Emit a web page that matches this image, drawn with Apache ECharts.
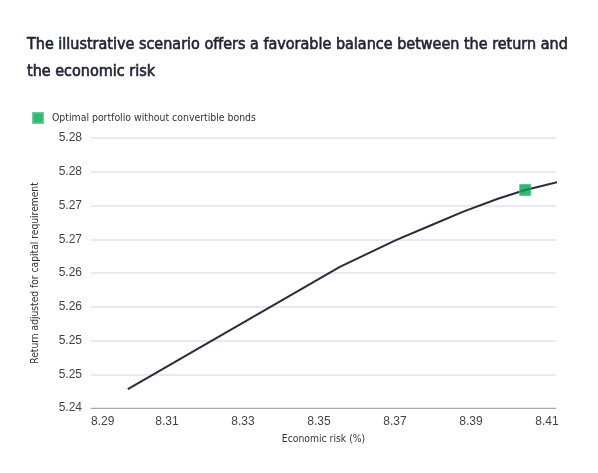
<!DOCTYPE html>
<html>
<head>
<meta charset="utf-8">
<script src="https://cdn.jsdelivr.net/npm/echarts@6/dist/echarts.min.js"></script>
<style>
  html, body { margin: 0; padding: 0; background: #fff; }
  #chart { width: 598px; height: 473px; }
</style>
</head>
<body>
<div id="chart"></div>
<script>
const NARROW = '"DejaVu Sans Condensed", "Liberation Sans Narrow", sans-serif';
const PLAIN  = '"Liberation Sans", Arial, sans-serif';

// frontier
const riskX    = [8.2997, 8.3555, 8.3704, 8.3792, 8.3880, 8.3971, 8.4043, 8.4131];
const returnY  = [5.2428, 5.2609, 5.2649, 5.2670, 5.2691, 5.2710, 5.2723, 5.2735];
const optimal  = [8.4043, 5.2723];

const xMin = 8.29, xMax = 8.4124, xStep = 0.01;
const yMin = 5.24, yMax = 5.28,   yStep = 0.005;

const frontier = riskX.map((x, i) => [x, returnY[i]]);

function xLabel(v) {
    const h = Math.round(v * 100);
    if (Math.abs(v * 100 - h) > 1e-6) return '';   // the max end, not a tick
    return h % 2 === 1 ? (h / 100).toFixed(2) : '';
}

function yLabel(v) {
    return (Math.round(v * 100 + 1e-9) / 100).toFixed(2);
}

const chart = echarts.init(document.getElementById('chart'), null, { renderer: 'canvas' });

chart.setOption({
    animation: false,
    title: {
        text: 'The illustrative scenario offers a favorable balance between the return and\nthe economic risk',
        left: 27,
        top: 31,
        padding: 0,
        textStyle: {
            fontFamily: NARROW,
            fontSize: 16,
            fontWeight: 'normal',
            lineHeight: 27,
            color: '#1f2233',
            textBorderColor: '#1f2233',
            textBorderWidth: 0.6,
        },
    },
    legend: {
        data: ['Optimal portfolio without convertible bonds'],
        left: 32,
        top: 112,
        padding: 0,
        icon: 'rect',
        itemWidth: 10,
        itemHeight: 10,
        textStyle: { fontFamily: NARROW, fontSize: 10.4, color: '#333', padding: [0, 0, 0, 4] },
    },
    grid: { left: 91, right: 42, top: 138, bottom: 65 },
    xAxis: {
        type: 'value',
        min: xMin,
        max: xMax,
        interval: xStep,
        name: 'Economic risk (%)',
        nameLocation: 'middle',
        nameGap: 26,
        nameTextStyle: { fontFamily: NARROW, fontSize: 10.3, color: '#333' },
        axisLine: { show: true, lineStyle: { color: '#a9a9ad', width: 1 } },
        axisTick: { show: false },
        splitLine: { show: false },
        axisLabel: {
            formatter: xLabel,
            margin: 8,
            alignMinLabel: 'left',
            fontFamily: PLAIN,
            fontSize: 12,
            color: '#444',
        },
    },
    yAxis: {
        type: 'value',
        min: yMin,
        max: yMax,
        interval: yStep,
        name: 'Return adjusted for capital requirement',
        nameLocation: 'middle',
        nameRotate: 90,
        nameGap: 51,
        nameTextStyle: { fontFamily: NARROW, fontSize: 10.2, color: '#333' },
        axisLine: { show: false },
        axisTick: { show: false },
        splitLine: { lineStyle: { color: '#e2e2e8', width: 1.5 } },
        axisLabel: {
            formatter: yLabel,
            margin: 9,
            fontFamily: PLAIN,
            fontSize: 12,
            color: '#444',
        },
    },
    series: [
        {
            name: 'frontier',
            type: 'line',
            data: frontier,
            symbol: 'none',
            clip: false,
            lineStyle: { color: '#2a2b3e', width: 2 },
            z: 2,
        },
        {
            name: 'Optimal portfolio without convertible bonds',
            type: 'scatter',
            data: [optimal],
            symbol: 'rect',
            symbolSize: 11,
            itemStyle: { color: '#00a651', borderColor: '#4cc283', borderWidth: 1 },
            z: 3,
        },
    ],
});
</script>
</body>
</html>
